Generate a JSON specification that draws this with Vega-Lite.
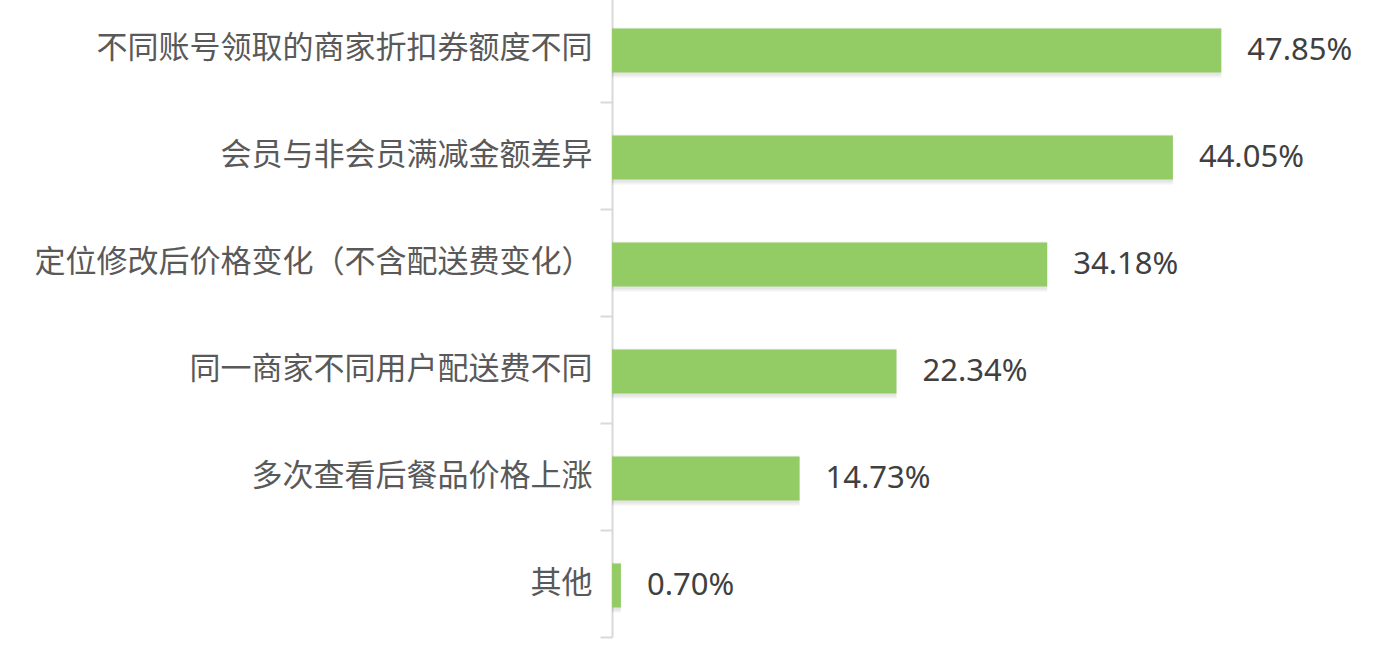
{
  "$schema": "https://vega.github.io/schema/vega-lite/v6.json",
  "autosize": {"type": "none"},
  "padding": {"left": 612, "top": -5, "right": 0, "bottom": 16},
  "width": 764,
  "height": 642,
  "background": "#ffffff",
  "view": {"stroke": null},
  "data": {
    "values": [
      {"item": "不同账号领取的商家折扣券额度不同", "share": 0.4785},
      {"item": "会员与非会员满减金额差异", "share": 0.4405},
      {"item": "定位修改后价格变化（不含配送费变化）", "share": 0.3418},
      {"item": "同一商家不同用户配送费不同", "share": 0.2234},
      {"item": "多次查看后餐品价格上涨", "share": 0.1473},
      {"item": "其他", "share": 0.007}
    ]
  },
  "encoding": {
    "y": {
      "field": "item",
      "type": "nominal",
      "sort": null,
      "scale": {"paddingInner": 0, "paddingOuter": 0},
      "axis": {
        "title": null,
        "tickBand": "extent",
        "domainColor": "#d9d9d9",
        "domainWidth": 2,
        "tickColor": "#d9d9d9",
        "tickWidth": 2,
        "tickSize": 12,
        "labelFont": "Noto Sans CJK SC",
        "labelFontSize": 31,
        "labelColor": "#595959",
        "labelPadding": 8,
        "labelLimit": 700
      }
    },
    "x": {
      "field": "share",
      "type": "quantitative",
      "scale": {"domain": [0, 0.6], "zero": true},
      "axis": null
    }
  },
  "layer": [
    {
      "mark": {"type": "bar", "color": "#000000", "opacity": 0.05, "size": 50, "yOffset": 4, "x2Offset": 5}
    },
    {
      "mark": {"type": "bar", "color": "#000000", "opacity": 0.05, "size": 46, "yOffset": 4, "x2Offset": 3}
    },
    {
      "mark": {"type": "bar", "color": "#93cc64", "size": 44, "yOffset": 2, "x2Offset": 2}
    },
    {
      "mark": {"type": "text", "align": "left", "baseline": "middle", "dx": 26, "dy": 2, "font": "Noto Sans", "fontSize": 31, "color": "#404040"},
      "encoding": {"text": {"field": "share", "type": "quantitative", "format": ".2%"}}
    }
  ]
}
